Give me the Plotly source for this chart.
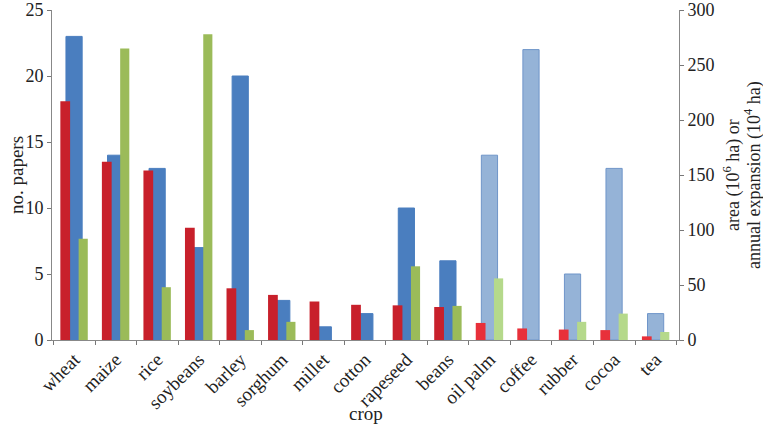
import plotly.graph_objects as go

crops = ["wheat", "maize", "rice", "soybeans", "barley", "sorghum", "millet", "cotton",
         "rapeseed", "beans", "oil palm", "coffee", "rubber", "cocoa", "tea"]
papers = [23, 14, 13, 7, 20, 3, 1, 2, 10, 6, 14, 22, 5, 13, 2]
area = [217, 162, 154, 102, 47, 41, 35, 32, 31.5, 30, 15.5, 10.5, 9.5, 9, 3.3]
expansion = [92, 265, 48, 278, 9, 16.5, 0, 0, 67, 31, 56, 0, 16.5, 24, 7.3]
tropical = [False] * 10 + [True] * 5

blue_fill = ["#95B3D7" if t else "#4A7EBF" for t in tropical]
blue_line = ["#6F95C9" if t else "#4A7EBF" for t in tropical]
red_fill = ["#E8303A" if t else "#C8202B" for t in tropical]
green_fill = ["#B5D98B" if t else "#9BBB59" for t in tropical]

FONT = "Liberation Serif"
TXT = "#222222"

W, H = 763, 434
L, R, T, B = 52, 84, 10, 94
PW = W - L - R
PH = H - T - B


def px_x(p):
    return (p - L) / PW


def px_y(p):
    return (H - B - p) / PH


fig = go.Figure()
fig.add_trace(go.Bar(x=crops, y=papers, yaxis="y", offset=-0.20, width=0.39,
                     marker=dict(color=blue_fill, line=dict(color=blue_line, width=1)),
                     name="no. papers"))
fig.add_trace(go.Bar(x=crops, y=area, yaxis="y2", offset=-0.335, width=0.235,
                     marker=dict(color=red_fill, line=dict(width=0)), name="area"))
fig.add_trace(go.Bar(x=crops, y=expansion, yaxis="y2", offset=0.105, width=0.22,
                     marker=dict(color=green_fill, line=dict(width=0)), name="expansion"))

axis_common = dict(ticks="outside", ticklen=4, tickcolor="#777", showline=True,
                   linecolor="#888", linewidth=1, showgrid=False, zeroline=False,
                   automargin=False)

ann_font = dict(family=FONT, size=18, color=TXT)

fig.update_layout(
    width=W, height=H,
    margin=dict(l=L, r=R, t=T, b=B, autoexpand=False),
    paper_bgcolor="white", plot_bgcolor="white",
    showlegend=False, barmode="overlay",
    font=dict(family=FONT, size=18, color=TXT),
    xaxis=dict(type="category", range=[-0.536, 14.558], tickangle=-45, tickson="boundaries",
               tickfont=dict(family=FONT, size=19, color=TXT), **axis_common),
    yaxis=dict(range=[0, 25], dtick=5, tickfont=dict(family=FONT, size=18, color=TXT),
               **axis_common),
    yaxis2=dict(range=[0, 300], dtick=50, overlaying="y", side="right",
                tickfont=dict(family=FONT, size=18, color=TXT), **axis_common),
    annotations=[
        dict(text="no. papers", xref="paper", yref="paper", x=px_x(16), y=0.5,
             textangle=-90, showarrow=False, xanchor="center", yanchor="middle",
             font=dict(family=FONT, size=19, color=TXT)),
        dict(text="area (10<sup>6</sup> ha) or", xref="paper", yref="paper",
             x=px_x(732), y=0.5, textangle=-90, showarrow=False,
             xanchor="center", yanchor="middle", font=ann_font),
        dict(text="annual expansion (10<sup>4</sup> ha)", xref="paper", yref="paper",
             x=px_x(753), y=0.5, textangle=-90, showarrow=False,
             xanchor="center", yanchor="middle", font=ann_font),
        dict(text="crop", xref="paper", yref="paper", x=0.5, y=px_y(414),
             showarrow=False, xanchor="center", yanchor="middle",
             font=dict(family=FONT, size=19, color=TXT)),
    ],
)

fig.write_html("out.html", config={"displayModeBar": False},
               post_script="document.body.style.margin='0px';document.body.style.overflow='hidden';")
